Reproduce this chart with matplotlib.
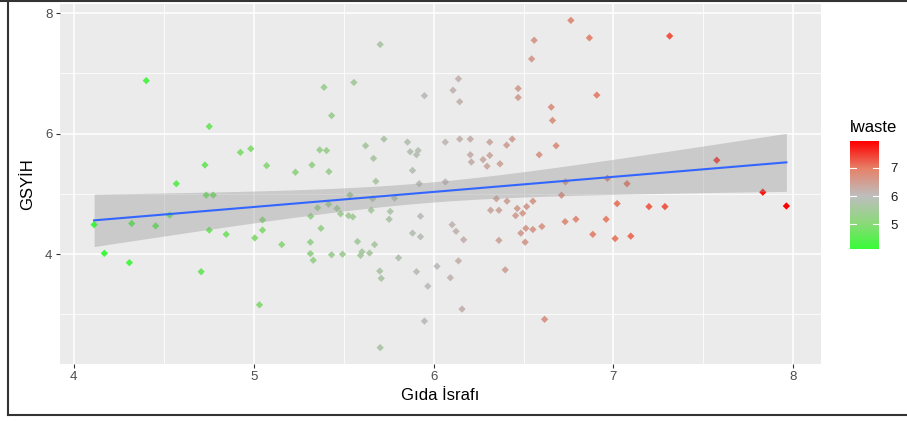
#!/usr/bin/env python3
import numpy as np
import matplotlib
matplotlib.use("Agg")
import matplotlib.pyplot as plt
from matplotlib.colors import LinearSegmentedColormap, Normalize
from matplotlib.lines import Line2D

# food waste (log) and GDP (log) per country
lwaste = [
    4.403, 4.753, 4.926, 4.984, 4.729, 4.570, 4.736, 4.775, 4.113, 4.322,
    4.455, 4.533, 4.753, 4.847, 5.006, 4.170, 4.309, 4.708, 5.032,
    5.703, 5.557, 5.391, 5.949, 5.433, 5.072, 5.232, 5.324, 5.367, 5.405,
    5.418, 5.622, 5.724, 5.666, 5.679, 5.855, 5.870, 5.914, 5.905, 5.883,
    5.920, 5.535, 5.661, 5.783, 5.355, 5.416, 5.463, 5.483, 5.317, 5.527,
    5.551, 5.653, 5.759, 5.753, 5.927, 5.049, 5.049, 5.374, 5.156, 5.315,
    5.577, 5.672, 5.883, 5.927, 5.315, 5.331, 5.433, 5.494, 5.594, 5.602,
    5.644, 5.805, 5.701, 5.709, 5.905, 5.968, 6.019, 5.949, 5.703,
    6.763, 6.866, 6.559, 6.545, 6.138, 6.108, 6.145, 6.470, 6.470, 6.907,
    6.654, 6.661, 6.065, 6.145, 6.204, 6.312, 6.406, 6.437, 6.681, 6.587,
    6.204, 6.312, 6.275, 6.210, 6.369, 6.297, 6.065, 6.733, 6.966, 6.711,
    6.349, 6.408, 6.552, 7.020, 6.317, 6.363, 6.465, 6.517, 6.456, 6.495,
    6.731, 6.791, 6.959, 6.103, 6.125, 6.167, 6.363, 6.485, 6.509, 6.513,
    6.552, 6.602, 6.885, 7.009, 6.138, 6.093, 6.398, 6.158, 6.617,
    7.312, 7.574, 7.075, 7.830, 7.961, 7.197, 7.286, 7.096,
]
gsyih = [
    6.88, 6.12, 5.69, 5.75, 5.48, 5.17, 4.98, 4.98, 4.49, 4.51,
    4.47, 4.65, 4.40, 4.33, 4.27, 4.015, 3.86, 3.71, 3.16,
    7.48, 6.85, 6.77, 6.63, 6.30, 5.47, 5.36, 5.48, 5.73, 5.72,
    5.37, 5.80, 5.91, 5.59, 5.21, 5.86, 5.70, 5.72, 5.65, 5.39,
    5.17, 4.98, 4.92, 4.93, 4.77, 4.83, 4.76, 4.67, 4.63, 4.64,
    4.62, 4.73, 4.71, 4.58, 4.63, 4.57, 4.40, 4.43, 4.16, 4.20,
    4.21, 4.16, 4.35, 4.29, 4.01, 3.90, 3.99, 4.00, 3.98, 4.04,
    4.02, 3.94, 3.72, 3.60, 3.71, 3.47, 3.80, 2.89, 2.45,
    7.88, 7.59, 7.55, 7.24, 6.91, 6.72, 6.53, 6.75, 6.60, 6.64,
    6.44, 6.22, 5.86, 5.91, 5.91, 5.86, 5.81, 5.91, 5.80, 5.65,
    5.65, 5.64, 5.57, 5.53, 5.50, 5.46, 5.20, 5.20, 5.26, 4.98,
    4.92, 4.88, 4.88, 4.84, 4.73, 4.73, 4.76, 4.79, 4.64, 4.68,
    4.54, 4.58, 4.58, 4.49, 4.38, 4.24, 4.23, 4.35, 4.20, 4.43,
    4.41, 4.46, 4.33, 4.26, 3.89, 3.61, 3.74, 3.09, 2.92,
    7.62, 5.56, 5.17, 5.03, 4.80, 4.79, 4.79, 4.30,
]
color_mid = 6
legend_ticks = [5, 6, 7]
x_ticks = [4, 5, 6, 7, 8]
y_ticks = [4, 6, 8]

plt.rcParams["font.family"] = ["Liberation Sans", "DejaVu Sans"]

x = np.array(lwaste)
y = np.array(gsyih)

# green - grey - red diverging scale around the midpoint (like scale_colour_gradient2)
cmap = LinearSegmentedColormap.from_list(
    "gyr", [(0.0, "#33FF33"), (0.25, "#8CD97A"), (0.5, "#BEBEBE"),
            (0.75, "#E6826A"), (1.0, "#FF0000")])
half = max(color_mid - x.min(), x.max() - color_mid)
norm = Normalize(color_mid - half, color_mid + half)

# linear fit with 95% band
n = len(x)
slope, intercept = np.polyfit(x, y, 1)
resid = y - (slope * x + intercept)
s = np.sqrt(np.sum(resid ** 2) / (n - 2))
sxx = np.sum((x - x.mean()) ** 2)
xs = np.linspace(x.min(), x.max(), 80)
fit = slope * xs + intercept
se = s * np.sqrt(1 / n + (xs - x.mean()) ** 2 / sxx)
tval = 1.976

fig = plt.figure(figsize=(9.07, 4.21), dpi=100)
ax = fig.add_axes([59.5 / 907, 57 / 421, 761.5 / 907, 360 / 421])
ax.set_facecolor("#EBEBEB")

ax.fill_between(xs, fit - tval * se, fit + tval * se, color="#999999", alpha=0.4, lw=0, zorder=3)
ax.scatter(x, y, c=x, cmap=cmap, norm=norm, marker="D", s=14, lw=0, zorder=2)
ax.plot(xs, fit, color="#3366FF", lw=1.5, zorder=4)

ax.margins(0.05)
ax.set_xticks(x_ticks)
ax.set_yticks(y_ticks)
ax.set_xticks([4.5, 5.5, 6.5, 7.5], minor=True)
ax.set_yticks([3, 5, 7], minor=True)
ax.grid(which="major", color="white", lw=1.1)
ax.grid(which="minor", color="white", lw=0.55)
ax.set_axisbelow(True)
for sp in ax.spines.values():
    sp.set_visible(False)
ax.tick_params(which="major", length=3, width=0.8, color="#333333",
               labelcolor="#4D4D4D", labelsize=9.5, pad=2)
ax.tick_params(which="minor", length=0)

ax.set_xlabel("Gıda İsrafı", fontsize=12, va="center")
ax.xaxis.set_label_coords(0.5, -31 / 360)
ax.set_ylabel("GSYİH", fontsize=12, va="center")
ax.yaxis.set_label_coords(-31.5 / 761.5, 0.5)

# colour bar legend
cax = fig.add_axes([850 / 907, (421 - 249) / 421, 29 / 907, 108 / 421])
vals = np.linspace(x.min(), x.max(), 200)
cax.imshow(vals[:, None], cmap=cmap, norm=norm, aspect="auto", origin="lower",
           extent=[0, 1, x.min(), x.max()])
cax.set_xlim(0, 1)
cax.set_xticks([])
cax.yaxis.tick_right()
cax.set_yticks(legend_ticks)
cax.tick_params(length=0, labelsize=9.5, labelcolor="#1A1A1A", pad=8)
for v in legend_ticks:
    cax.plot([0, 0.2], [v, v], color="white", lw=0.8)
    cax.plot([0.8, 1], [v, v], color="white", lw=0.8)
for sp in cax.spines.values():
    sp.set_visible(False)
fig.text(850 / 907, 1 - 128 / 421, "lwaste", fontsize=12, va="center", ha="left")

# screenshot frame: top, left and bottom edges only
frame = dict(transform=fig.transFigure, color="#333333", lw=1.5)
fig.add_artist(Line2D([0, 1], [1 - 1 / 421, 1 - 1 / 421], **frame))
fig.add_artist(Line2D([8 / 907, 8 / 907], [6 / 421, 1], **frame))
fig.add_artist(Line2D([8 / 907, 1], [6 / 421, 6 / 421], **frame))

fig.savefig("out.png", dpi=100)
